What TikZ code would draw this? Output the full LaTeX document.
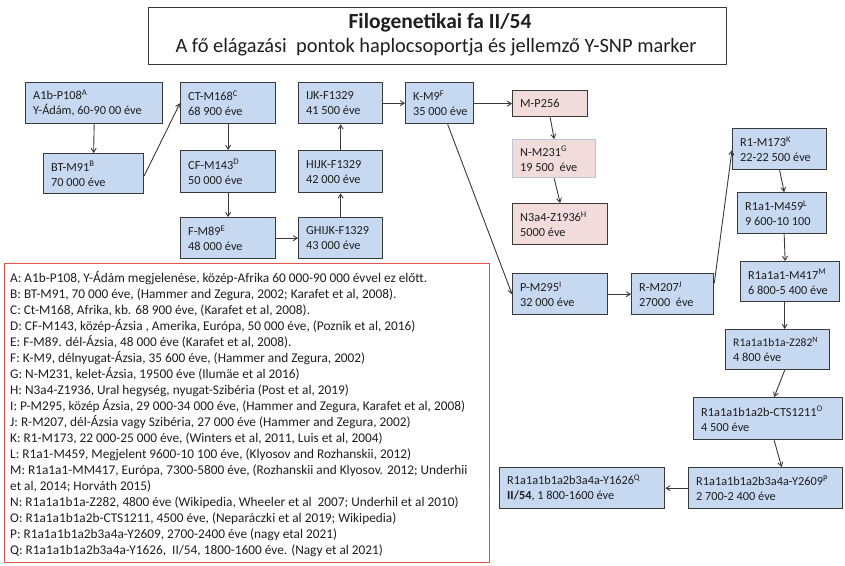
\documentclass[tikz,border=0pt]{standalone}
\usepackage{fontspec}
\setmainfont{Carlito}
\usetikzlibrary{arrows.meta,calc}
\definecolor{boxblue}{HTML}{C6D9F1}
\definecolor{boxpink}{HTML}{F2DCDB}
\definecolor{edge}{HTML}{3A3A3A}
\definecolor{lightedge}{HTML}{B9C6DA}
\definecolor{legendred}{HTML}{E5534B}
\definecolor{txt}{HTML}{1E1E1E}
\tikzset{
  hbox/.style={draw=edge, line width=1.3pt, fill=boxblue, anchor=north west, inner sep=0pt},
  pbox/.style={hbox, fill=boxpink},
  boxtext/.style={anchor=west, align=left, inner sep=0pt, text=txt, font=\fontsize{12.3}{15}\selectfont},
  conn/.style={draw=edge, line width=0.9pt, -{Straight Barb[length=4pt,width=5pt]}},
}
% name, style, x, y, width, height, text
\newcommand{\hapbox}[7]{%
  \node[#2, minimum width=#5pt, minimum height=#6pt] (#1) at (#3,#4) {};
  \node[boxtext] (#1-t) at ([xshift=8pt]#1.west) {#7};
}
\begin{document}
\begin{tikzpicture}[x=1pt,y=-1pt]
\useasboundingbox (0,0) rectangle (845,565);
\fill[white] (0,0) rectangle (845,565);
% title
\node[draw=edge, line width=1pt, anchor=north west, minimum width=578pt, minimum height=57pt, inner sep=0pt] (title) at (148,7) {};
\node[font=\fontsize{21.5}{24}\selectfont\bfseries, text=txt] (t1) at (440,23) {Filogenetikai fa II/54};
\node[font=\fontsize{20.4}{24}\selectfont, text=txt] (t2) at (436,47) {A fő elágazási\ \ pontok haplocsoportja és jellemző Y-SNP marker};
% boxes
\hapbox{a1b}{hbox}{25}{82}{137}{41}{A1b-P108\textsuperscript{A}\\Y-Ádám, 60-90 00 éve}
\hapbox{bt}{hbox}{43}{153}{100}{40}{BT-M91\textsuperscript{B}\\70 000 éve}
\hapbox{ct}{hbox}{180}{82}{95}{41}{CT-M168\textsuperscript{C}\\68 900 éve}
\hapbox{cf}{hbox}{180}{150}{95}{42}{CF-M143\textsuperscript{D}\\50 000 éve}
\hapbox{f}{hbox}{180}{217}{95}{41}{F-M89\textsuperscript{E}\\48 000 éve}
\hapbox{ijk}{hbox}{298}{82}{84}{41}{IJK-F1329\\41 500 éve}
\hapbox{hijk}{hbox}{298}{150}{84}{42}{HIJK-F1329\\42 000 éve}
\hapbox{ghijk}{hbox}{298}{217}{84}{41}{GHIJK-F1329\\43 000 éve}
\hapbox{k}{hbox}{405}{82}{68}{41}{K-M9\textsuperscript{F}\\35 000 éve}
\hapbox{mp}{pbox}{512}{90}{75}{26}{M-P256}
\hapbox{nm}{pbox, draw=lightedge}{512}{139}{83}{38}{N-M231\textsuperscript{G}\\19 500\ \ éve}
\hapbox{n3}{pbox}{512}{203}{95}{41}{N3a4-Z1936\textsuperscript{H}\\5000 éve}
\hapbox{p}{hbox}{512}{273}{95}{41}{P-M295\textsuperscript{I}\\32 000 éve}
\hapbox{r}{hbox}{631}{273}{82}{41}{R-M207\textsuperscript{J}\\27000\ \ éve}
\hapbox{r1}{hbox}{732}{128}{94}{41}{R1-M173\textsuperscript{K}\\22-22 500 éve}
\hapbox{r1a1}{hbox}{737}{192}{89}{41}{R1a1-M459\textsuperscript{L}\\9 600-10 100}
\hapbox{m417}{hbox}{740}{261}{99}{40}{R1a1a1-M417\textsuperscript{M}\\6 800-5 400 éve}
\hapbox{z282}{hbox}{725}{329}{104}{40}{\fontsize{11.6}{15}\selectfont R1a1a1b1a-Z282\textsuperscript{N}\\4 800 éve}
\hapbox{cts}{hbox}{693}{397}{149}{42}{R1a1a1b1a2b-CTS1211\textsuperscript{O}\\4 500 éve}
\hapbox{y2609}{hbox}{688}{467}{154}{41}{R1a1a1b1a2b3a4a-Y2609\textsuperscript{P}\\2 700-2 400 éve}
\hapbox{y1626}{hbox}{499}{467}{165}{41}{R1a1a1b1a2b3a4a-Y1626\textsuperscript{Q}\\\textbf{II/54}, 1 800-1600 éve}
% connectors
\draw[conn] (a1b.south) -- (bt.north);
\draw[conn] ([yshift=-2pt]bt.east) -- (ct.west);
\draw[conn] (ct.south) -- (cf.north);
\draw[conn] (cf.south) -- (f.north);
\draw[conn] (f.east) -- (ghijk.west);
\draw[conn] (ghijk.north) -- (hijk.south);
\draw[conn] (hijk.north) -- (ijk.south);
\draw[conn] (ijk.east) -- (k.west);
\draw[conn] (k.east |- mp.west) -- (mp.west);
\draw[conn] (mp.south) -- (nm.north);
\draw[conn] (nm.south) -- (n3.north);
\draw[conn] ([xshift=8pt]k.south) -- (p.west);
\draw[conn] (p.east) -- (r.west);
\draw[conn] ([yshift=11pt]r.east) -- ([yshift=-1pt]r1.west);
\draw[conn] (r1.south) -- ([xshift=2pt]r1a1.north);
\draw[conn] ([xshift=2pt]r1a1.south) -- ([xshift=-5pt]m417.north);
\draw[conn] ([xshift=-5.5pt]m417.south) -- ([xshift=7pt]z282.north);
\draw[conn] ([xshift=7pt]z282.south) -- ([xshift=6pt]cts.north);
\draw[conn] ([xshift=6pt]cts.south) -- ([xshift=16pt]y2609.north);
\draw[conn] (y2609.west) -- (y1626.east);
% legend
\node[draw=legendred, line width=1.4pt, anchor=north west, minimum width=485pt, minimum height=299pt, inner sep=0pt] (legbox) at (4,263) {};
\node[anchor=north west, align=left, inner sep=0pt, text=txt, font=\fontsize{13.3}{16}\selectfont] (leg) at (10,271) {%
A: A1b-P108, Y-Ádám megjelenése, közép-Afrika 60 000-90 000 évvel ez előtt.\\
B: BT-M91, 70 000 éve, (Hammer and Zegura, 2002; Karafet et al, 2008).\\
C: Ct-M168, Afrika, kb. 68 900 éve, (Karafet et al, 2008).\\
D: CF-M143, közép-Ázsia , Amerika, Európa, 50 000 éve, (Poznik et al, 2016)\\
E: F-M89. dél-Ázsia, 48 000 éve (Karafet et al, 2008).\\
F: K-M9, délnyugat-Ázsia, 35 600 éve, (Hammer and Zegura, 2002)\\
G: N-M231, kelet-Ázsia, 19500 éve (Ilumäe et al 2016)\\
H: N3a4-Z1936, Ural hegység, nyugat-Szibéria (Post et al, 2019)\\
I: P-M295, közép Ázsia, 29 000-34 000 éve, (Hammer and Zegura, Karafet et al, 2008)\\
J: R-M207, dél-Ázsia vagy Szibéria, 27 000 éve (Hammer and Zegura, 2002)\\
K: R1-M173, 22 000-25 000 éve, (Winters et al, 2011, Luis et al, 2004)\\
L: R1a1-M459, Megjelent 9600-10 100 éve, (Klyosov and Rozhanskii, 2012)\\
M: R1a1a1-MM417, Európa, 7300-5800 éve, (Rozhanskii and Klyosov. 2012; Underhii\\
et al, 2014; Horváth 2015)\\
N: R1a1a1b1a-Z282, 4800 éve (Wikipedia, Wheeler et al\ \ 2007; Underhil et al 2010)\\
O: R1a1a1b1a2b-CTS1211, 4500 éve, (Neparáczki et al 2019; Wikipedia)\\
P: R1a1a1b1a2b3a4a-Y2609, 2700-2400 éve (nagy etal 2021)\\
Q: R1a1a1b1a2b3a4a-Y1626,\ \ II/54, 1800-1600 éve. (Nagy et al 2021)};
\end{tikzpicture}
\end{document}
